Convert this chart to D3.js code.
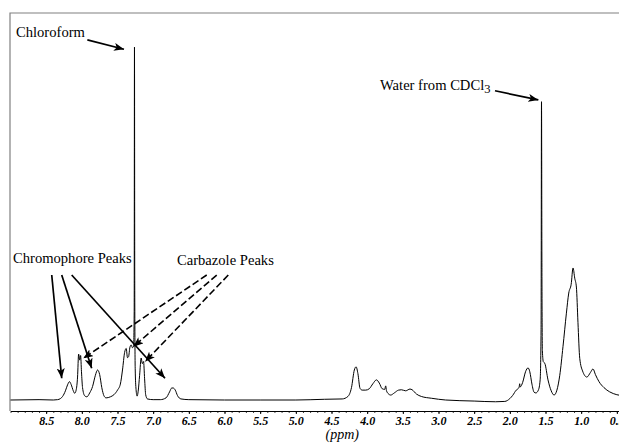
<!DOCTYPE html>
<html>
<head>
<meta charset="utf-8">
<script src="https://cdn.jsdelivr.net/npm/d3@7"></script>
<style>
  html, body { margin: 0; padding: 0; background: #fff; }
  svg { display: block; }
  .axis text { font-family: "Liberation Serif", "Times New Roman", serif; font-size: 12px; font-weight: bold; font-style: italic; fill: #000; }
  .axis path, .axis line { stroke: #000; }
  .minor line { stroke: #444; }
  .note { font-family: "Liberation Serif", "Times New Roman", serif; font-size: 14.6px; fill: #000; }
</style>
</head>
<body>
<div id="chart"></div>
<script>
// 1H NMR trace: chemical shift (ppm) and relative intensity (CHCl3 = 100)
const shifts = [
  9.00, 8.60, 8.40, 8.34, 8.30, 8.27, 8.23, 8.20, 8.173, 8.15, 8.12, 8.10, 8.08, 8.06,
  8.045, 8.03, 8.017, 8.005, 7.99, 7.96, 7.93, 7.89, 7.85, 7.81, 7.78, 7.75, 7.72, 7.69,
  7.66, 7.60, 7.55, 7.50, 7.46, 7.43, 7.40, 7.378, 7.36, 7.346, 7.325, 7.308, 7.29, 7.275,
  7.266, 7.262, 7.258, 7.252, 7.24, 7.225, 7.21, 7.19, 7.168, 7.152, 7.135, 7.12, 7.105,
  7.08, 7.00, 6.90, 6.82, 6.77, 6.74, 6.72, 6.69, 6.66, 6.61, 6.50, 6.00, 5.50, 5.00,
  4.60, 4.35, 4.27, 4.22, 4.18, 4.155, 4.13, 4.10, 4.07, 4.02, 3.97, 3.92, 3.87, 3.83,
  3.79, 3.755, 3.74, 3.73, 3.70, 3.67, 3.62, 3.56, 3.52, 3.46, 3.40, 3.37, 3.31, 3.24,
  3.10, 2.90, 2.50, 2.20, 2.07, 2.00, 1.96, 1.91, 1.885, 1.87, 1.862, 1.855, 1.82, 1.78,
  1.745, 1.72, 1.69, 1.66, 1.635, 1.60, 1.575, 1.562, 1.556, 1.550, 1.544, 1.53, 1.51,
  1.465, 1.42, 1.38, 1.34, 1.30, 1.255, 1.207, 1.174, 1.14, 1.114, 1.09, 1.067, 1.045,
  1.02, 0.98, 0.92, 0.87, 0.834, 0.80, 0.75, 0.68, 0.60, 0.50, 0.40
];
const intensity = [
  0.0, 0.1, 0.0, 0.1, 0.4, 1.0, 2.6, 4.3, 5.2, 4.4, 2.6, 1.9, 2.8, 6.5,
  13.0, 11.3, 12.6, 8.0, 3.5, 1.2, 0.9, 2.0, 3.8, 7.0, 8.5, 7.2, 3.5, 1.2,
  0.6, 0.9, 1.5, 2.8, 4.5, 8.5, 13.5, 14.6, 12.0, 12.2, 15.0, 15.6, 14.8, 15.2,
  25, 100, 30, 9.0, 3.0, 1.1, 2.5, 7.0, 11.9, 10.3, 10.9, 6.0, 1.5,
  0.3, 0.1, 0.1, 0.6, 2.3, 3.4, 3.4, 2.8, 1.3, 0.3, 0.1, 0.0, 0.0, 0.0,
  0.2, 0.3, 1.0, 3.5, 8.5, 9.4, 7.5, 3.3, 2.8, 2.8, 3.2, 4.6, 5.7, 4.8,
  3.2, 3.0, 4.0, 2.7, 1.7, 1.4, 2.0, 2.8, 2.9, 2.6, 3.1, 2.9, 1.7, 1.0,
  0.5, 0.0, -0.3, -0.5, -0.4, 0.4, 1.3, 2.8, 3.2, 3.6, 4.6, 3.7, 5.0, 8.0,
  9.1, 8.0, 4.5, 2.2, 2.0, 2.8, 5.7, 20, 84.5, 35, 14, 10.8, 10.4,
  5.7, 2.6, 1.4, 2.8, 7.0, 15.1, 24.6, 30.3, 32.8, 37.4, 34.5, 32.0, 22,
  11.8, 8.2, 6.5, 7.8, 8.8, 7.2, 5.2, 3.5, 2.3, 1.5, 1.2
];

const majorTicks = [8.5, 8.0, 7.5, 7.0, 6.5, 6.0, 5.5, 5.0, 4.5, 4.0, 3.5, 3.0, 2.5, 2.0, 1.5, 1.0, 0.5];
const minorTicks = d3.range(90, 3, -1).map(d => d / 10);

// annotation text, placed in data units (ppm, intensity)
const noteLabels = [
  { text: "Chloroform", ppm: 8.923, value: 102.9 },
  { text: "Chromophore Peaks", ppm: 8.965, value: 38.8 },
  { text: "Carbazole Peaks", ppm: 6.666, value: 38.2 }
];
const solidArrows = [
  { from: [7.923, 102.0], to: [7.409, 99.35] },
  { from: [2.208, 87.6], to: [1.600, 85.0] },
  { from: [8.422, 35.4], to: [8.282, 6.15] },
  { from: [8.282, 35.4], to: [7.862, 8.98] },
  { from: [8.142, 35.4], to: [6.834, 6.15] }
];
const dashedArrows = [
  { from: [6.249, 35.4], to: [7.979, 11.8] },
  { from: [6.109, 35.4], to: [7.278, 15.1] },
  { from: [5.947, 35.4], to: [7.114, 10.85] }
];

const w = 619;
const h = 443;
const frameLeft = 10;
const frameTop = 13;
const axisY = 411;

const spectrum = shifts.map((s, i) => ({ ppm: s, value: intensity[i] }));

const xScale = d3.scaleLinear().domain([9.0, 0.0]).range([10.5, 652.5]);
const yScale = d3.scaleLinear().domain([0, 100]).range([400, 47]);

const svg = d3.select("#chart")
  .append("svg")
  .attr("width", w)
  .attr("height", h);

// arrow heads
const defs = svg.append("defs");
defs.append("marker")
  .attr("id", "head")
  .attr("markerUnits", "userSpaceOnUse")
  .attr("viewBox", "0 0 10 8")
  .attr("refX", 10)
  .attr("refY", 4)
  .attr("markerWidth", 10)
  .attr("markerHeight", 8)
  .attr("orient", "auto")
  .append("path")
  .attr("d", "M0,0 L10,4 L0,8 L2.5,4 Z")
  .attr("fill", "#000");

// frame (top and left)
svg.append("path")
  .attr("d", `M${w},${frameTop}H${frameLeft}V${axisY}`)
  .attr("fill", "none")
  .attr("stroke", "#808080")
  .attr("stroke-width", 1.2);

// minor ticks
svg.append("g")
  .attr("class", "axis minor")
  .attr("transform", `translate(0,${axisY})`)
  .call(d3.axisBottom(xScale).tickValues(minorTicks).tickSize(2).tickFormat(""))
  .call(g => g.select(".domain").remove());

// major axis
svg.append("g")
  .attr("class", "axis")
  .attr("transform", `translate(0,${axisY})`)
  .call(d3.axisBottom(xScale)
    .tickValues(majorTicks)
    .tickSizeInner(3)
    .tickSizeOuter(0)
    .tickPadding(2)
    .tickFormat(d3.format(".1f")))
  .call(g => g.select(".domain").attr("stroke-width", 1.2));

svg.append("text")
  .attr("class", "note")
  .attr("x", xScale(4.35))
  .attr("y", 439)
  .attr("text-anchor", "middle")
  .style("font-style", "italic")
  .style("font-size", "14px")
  .text("(ppm)");

// spectrum
const line = d3.line()
  .x(d => xScale(d.ppm))
  .y(d => yScale(d.value))
  .curve(d3.curveMonotoneX);

svg.append("path")
  .datum(spectrum)
  .attr("d", line)
  .attr("fill", "none")
  .attr("stroke", "#000")
  .attr("stroke-width", 1)
  .attr("stroke-linejoin", "round");

// annotations
svg.selectAll(".label")
  .data(noteLabels)
  .enter()
  .append("text")
  .attr("class", "note")
  .attr("x", d => xScale(d.ppm))
  .attr("y", d => yScale(d.value))
  .text(d => d.text);

const water = svg.append("text")
  .attr("class", "note")
  .attr("x", xScale(3.82))
  .attr("y", yScale(87.8));
water.append("tspan").text("Water from CDCl");
water.append("tspan").attr("dy", 3).style("font-size", "12.5px").text("3");

svg.selectAll(".solid-arrow")
  .data(solidArrows)
  .enter()
  .append("line")
  .attr("x1", d => xScale(d.from[0]))
  .attr("y1", d => yScale(d.from[1]))
  .attr("x2", d => xScale(d.to[0]))
  .attr("y2", d => yScale(d.to[1]))
  .attr("stroke", "#000")
  .attr("stroke-width", 1.7)
  .attr("marker-end", "url(#head)");

svg.selectAll(".dashed-arrow")
  .data(dashedArrows)
  .enter()
  .append("line")
  .attr("x1", d => xScale(d.from[0]))
  .attr("y1", d => yScale(d.from[1]))
  .attr("x2", d => xScale(d.to[0]))
  .attr("y2", d => yScale(d.to[1]))
  .attr("stroke", "#000")
  .attr("stroke-width", 1.6)
  .attr("stroke-dasharray", "7,3")
  .attr("marker-end", "url(#head)");
</script>
</body>
</html>
